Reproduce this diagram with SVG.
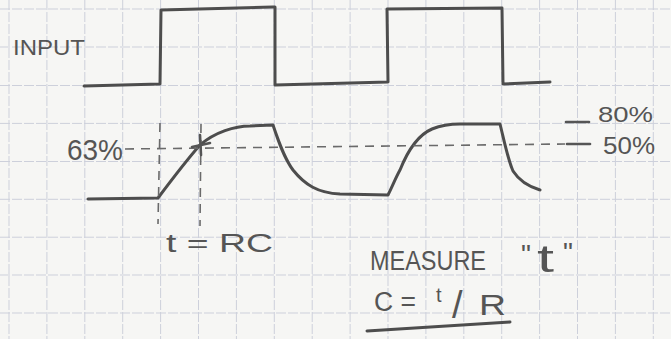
<svg xmlns="http://www.w3.org/2000/svg" width="671" height="339" viewBox="0 0 671 339">
<defs>
<style>
.grid{stroke:#cdd0db;stroke-width:1;fill:none;stroke-dasharray:10 2}
.ink{stroke:#4d4d4d;stroke-width:3;fill:none;stroke-linecap:round;stroke-linejoin:round}
.dash{stroke:#6a6a6a;stroke-width:1.6;fill:none;stroke-dasharray:9 7}
.tick{stroke:#555;stroke-width:2.6;fill:none;stroke-linecap:round}
.hand{font-family:"Liberation Sans","DejaVu Sans",sans-serif;fill:#555;}
</style>
</defs>
<rect width="671" height="339" fill="#f6f6f4"/>
<g id="grid">
<path class="grid" d="M9,0V339M46.9,0V339M84.8,0V339M122.7,0V339M160.6,0V339M198.5,0V339M236.4,0V339M274.3,0V339M312.2,0V339M350.1,0V339M388,0V339M425.9,0V339M463.8,0V339M501.7,0V339M539.6,0V339M577.5,0V339M615.4,0V339M653.3,0V339"/>
<path class="grid" d="M0,9H671M0,47H671M0,85.5H671M0,123.4H671M0,161.5H671M0,199.3H671M0,237.2H671M0,275H671M0,313H671"/>
</g>
<g id="input-wave">
<path class="ink" d="M84,86 L160,84 L161,10 L273,7 L275,7 L275,85 L388,82 L387,9 L502,8 L503,84 L550,82"/>
</g>
<g id="output-wave">
<path class="ink" d="M88,199 L158,198 C170,182 185,162 200,145 C215,132 235,126 250,126 L273,125 C278,140 284,158 293,170 C305,185 318,193 340,194 L388,195 C393,185 396,177 400,170 C408,150 418,135 432,129 C442,125 450,124 460,124 L500,124 C504,140 508,160 513,171 C520,182 530,187 540,190"/>
</g>
<g id="connectors">
<path class="dash" d="M125,149 L565,144"/>
<path class="dash" d="M160,123 L158,224"/>
<path class="dash" d="M201,124 L200,226"/>
<path class="tick" d="M192,147 L210,143 M200,135 L201,155"/>
<path class="tick" d="M567,144 L590,144"/>
<path class="tick" d="M566,122 L589,122"/>
<path class="ink" d="M367,331 L510,322"/>
</g>
<g id="labels">
<text class="hand" x="13" y="55" font-size="22" textLength="72" lengthAdjust="spacingAndGlyphs">INPUT</text>
<text class="hand" x="67" y="160" font-size="30" textLength="56" lengthAdjust="spacingAndGlyphs">63%</text>
<text class="hand" x="598" y="122" font-size="22" textLength="55" lengthAdjust="spacingAndGlyphs">80%</text>
<text class="hand" x="603" y="154" font-size="24" textLength="52" lengthAdjust="spacingAndGlyphs">50%</text>
<text class="hand" x="166" y="252" font-size="25" textLength="107" lengthAdjust="spacingAndGlyphs">t = RC</text>
<text class="hand" x="370" y="270" font-size="28" textLength="116" lengthAdjust="spacingAndGlyphs">MEASURE</text>
<text class="hand" x="521" y="264" font-size="28">"</text>
<text class="hand" x="537" y="272" font-size="38" textLength="17" lengthAdjust="spacingAndGlyphs">t</text>
<text class="hand" x="563" y="262" font-size="28">"</text>
<text class="hand" x="374" y="311" font-size="27" textLength="42" lengthAdjust="spacingAndGlyphs">C =</text>
<text class="hand" x="436" y="302" font-size="20">t</text>
<text class="hand" x="452" y="318" font-size="38">/</text>
<text class="hand" x="479" y="315" font-size="29" textLength="27" lengthAdjust="spacingAndGlyphs">R</text>
</g>
</svg>
